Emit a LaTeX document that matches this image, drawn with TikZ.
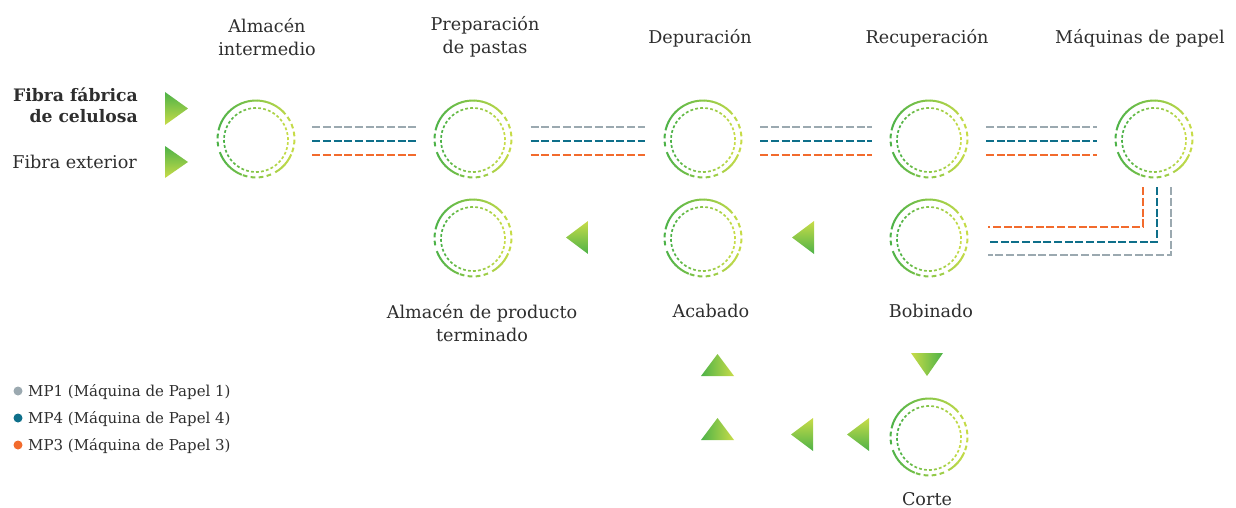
\documentclass[tikz,border=0pt]{standalone}
\usepackage{fontspec}
\setmainfont{DejaVu Serif}
\usetikzlibrary{calc}
\definecolor{grc}{HTML}{4DB248}
\definecolor{ygc}{HTML}{C8DC48}
\definecolor{mpgray}{HTML}{9BA9B0}
\definecolor{mpteal}{HTML}{0E6F8A}
\definecolor{mporange}{HTML}{F26B2D}
\definecolor{txt}{HTML}{2E2E2E}
\tikzset{
  ring/.style={circle, minimum size=78pt, inner sep=0pt},
  lbl/.style={font=\fontsize{17.6}{22.5}\selectfont, text=txt, align=center, inner sep=0pt},
  boldlbl/.style={font=\fontsize{17.2}{21}\selectfont\bfseries, text=txt, align=right, inner sep=0pt},
  leglbl/.style={font=\fontsize{15}{18}\selectfont, text=txt, inner sep=0pt},
  mpline/.style={line width=2.9pt, dash pattern=on 8pt off 2.7pt},
  mpa/.style={mpline, draw=mpgray},
  mpb/.style={mpline, draw=mpteal},
  mpc/.style={mpline, draw=mporange},
  legdot/.style={circle, minimum size=9pt, inner sep=0pt}
}
\newcommand\ringdraw[1]{%
  \begin{scope}[shift={(#1.center)}]
    \foreach \a in {40,46,...,154,200,206,...,244,300,306,...,334}{%
      \pgfmathtruncatemacro\p{50*(1+cos(\a+3))}%
      \draw[line width=2pt, color=ygc!\p!grc] (\a:38.5) arc[start angle=\a, end angle=\a+6.4, radius=38.5];
    }
    \foreach \a in {160,172,184,250,262,274,286,340,352,364,376,388}{%
      \pgfmathtruncatemacro\p{50*(1+cos(\a+3.5))}%
      \draw[line width=2pt, color=ygc!\p!grc] (\a:38.5) arc[start angle=\a, end angle=\a+7, radius=38.5];
    }
    \foreach \a in {0,9,...,351}{%
      \pgfmathtruncatemacro\p{50*(1+cos(\a+2.5))}%
      \draw[line width=1.7pt, color=ygc!\p!grc] (0,-1)+(\a:32) arc[start angle=\a, end angle=\a+5, radius=32];
    }
  \end{scope}}
\newcommand\mpconnect[2]{%
  \draw[mpa] ($(#1.east)!0.122!(#2.west)+(0,12)$) -- ($(#1.east)!0.878!(#2.west)+(0,12)$);
  \draw[mpb] ($(#1.east)!0.122!(#2.west)+(0,-2)$) -- ($(#1.east)!0.878!(#2.west)+(0,-2)$);
  \draw[mpc] ($(#1.east)!0.122!(#2.west)+(0,-16)$) -- ($(#1.east)!0.878!(#2.west)+(0,-16)$);}
\begin{document}
\begin{tikzpicture}[x=1pt,y=1pt]
\useasboundingbox (0,0) rectangle (1236,-508);
% circles
\node[ring] (c1) at (256,-139) {};
\node[ring] (c2) at (473,-139) {};
\node[ring] (c3) at (703,-139) {};
\node[ring] (c4) at (929,-139) {};
\node[ring] (c5) at (1154,-139) {};
\node[ring] (c6) at (473,-238) {};
\node[ring] (c7) at (703,-238) {};
\node[ring] (c8) at (929,-238) {};
\node[ring] (c9) at (929,-437) {};
\foreach \n in {c1,c2,c3,c4,c5,c6,c7,c8,c9}{\ringdraw{\n}}
% labels
\node[lbl] (l1) at (267,-37) {Almacén\\intermedio};
\node[lbl] (l2) at (485,-37) {Preparación\\de pastas};
\node[lbl, anchor=base] (l3) at (700,-44) {Depuración};
\node[lbl, anchor=base] (l4) at (927,-44) {Recuperación};
\node[lbl, anchor=base] (l5) at (1140,-44) {Máquinas de papel};
\node[lbl] (l6) at (482,-323) {Almacén de producto\\terminado};
\node[lbl, anchor=base] (l7) at (711,-317) {Acabado};
\node[lbl, anchor=base] (l8) at (931,-317) {Bobinado};
\node[lbl, anchor=base] (l9) at (927,-505) {Corte};
\node[boldlbl, anchor=east] (in1) at (138,-105) {Fibra fábrica\\de celulosa};
\node[lbl, anchor=base east] (in2) at (137,-168) {Fibra exterior};
% dashed flows
\mpconnect{c1}{c2}
\mpconnect{c2}{c3}
\mpconnect{c3}{c4}
\mpconnect{c4}{c5}
\draw[mpc] ([xshift=-11pt,yshift=-9pt]c5.south) |- ([xshift=20pt,yshift=11pt]c8.east);
\draw[mpb] ([xshift=3pt,yshift=-9pt]c5.south) |- ([xshift=20pt,yshift=-4pt]c8.east);
\draw[mpa] ([xshift=17pt,yshift=-9pt]c5.south) |- ([xshift=20pt,yshift=-17pt]c8.east);
% triangles
\shade[top color=grc, bottom color=ygc] (165,-92) -- (188,-108.5) -- (165,-125) -- cycle;
\shade[top color=grc, bottom color=ygc] (165,-146) -- (188,-162) -- (165,-178) -- cycle;
\shade[top color=ygc, bottom color=grc] (588,-221) -- (566,-237.5) -- (588,-254) -- cycle;
\shade[top color=ygc, bottom color=grc] (814,-221) -- (792,-237.5) -- (814,-254) -- cycle;
\shade[left color=ygc, right color=grc] (911,-353) -- (943,-353) -- (927,-376) -- cycle;
\shade[left color=grc, right color=ygc] (701,-376) -- (734,-376) -- (717.5,-354) -- cycle;
\shade[left color=grc, right color=ygc] (701,-440) -- (734,-440) -- (717.5,-418) -- cycle;
\shade[top color=ygc, bottom color=grc] (813,-418) -- (791,-434.5) -- (813,-451) -- cycle;
\shade[top color=ygc, bottom color=grc] (869,-418) -- (847,-434.5) -- (869,-451) -- cycle;
% legend
\node[legdot, fill=mpgray] (d1) at (18,-391) {};
\node[legdot, fill=mpteal] (d2) at (18,-418) {};
\node[legdot, fill=mporange] (d3) at (18,-445) {};
\node[leglbl, anchor=base west] (t1) at (28,-396) {MP1 (Máquina de Papel 1)};
\node[leglbl, anchor=base west] (t2) at (28,-423) {MP4 (Máquina de Papel 4)};
\node[leglbl, anchor=base west] (t3) at (28,-450.5) {MP3 (Máquina de Papel 3)};
\end{tikzpicture}
\end{document}
